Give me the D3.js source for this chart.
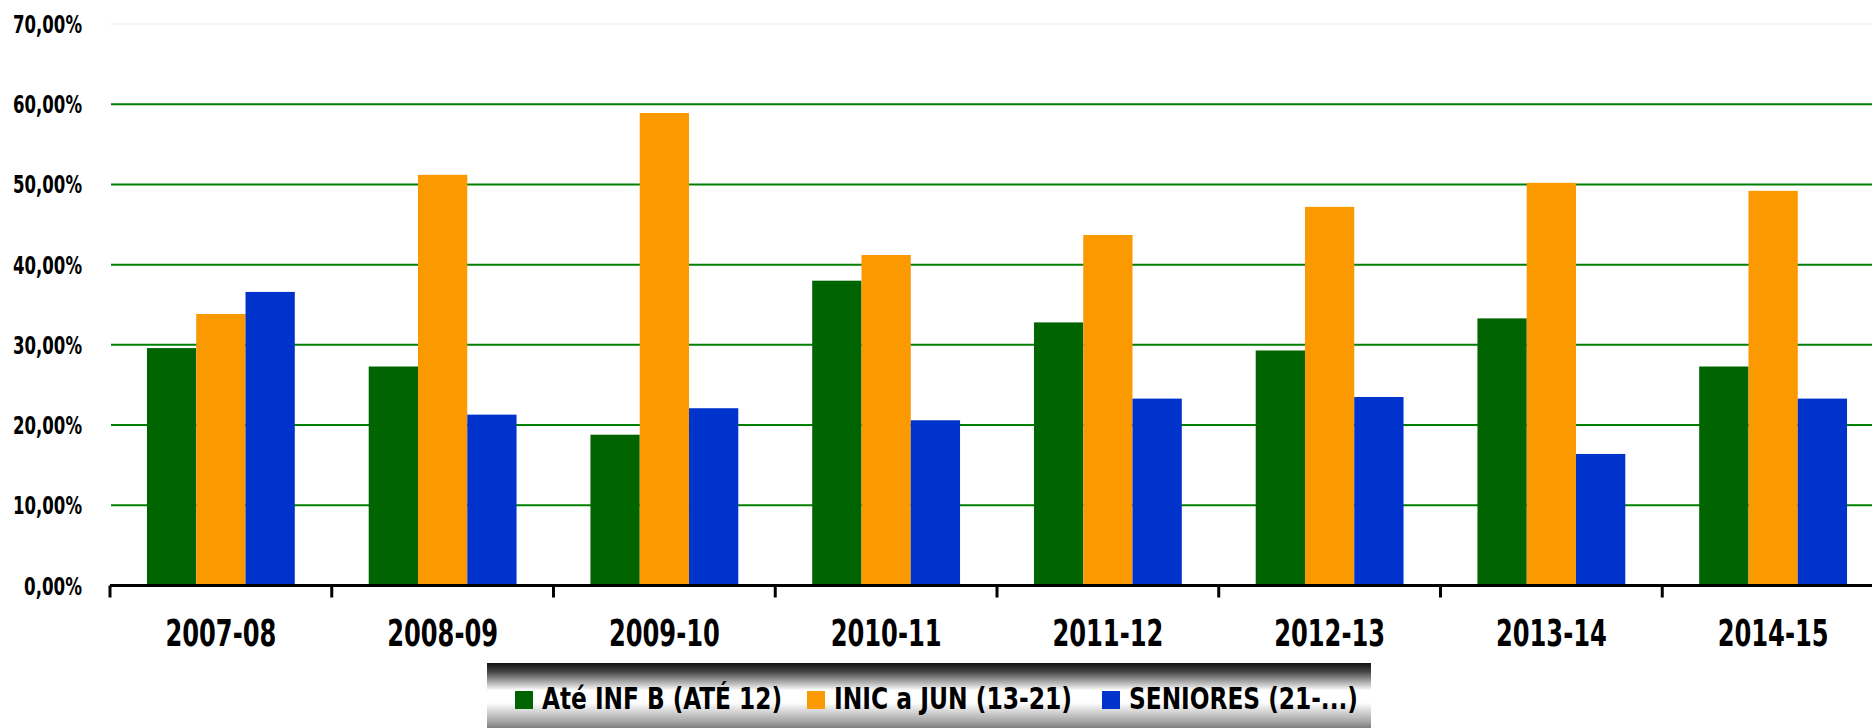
<!DOCTYPE html>
<html>
<head>
<meta charset="utf-8">
<script src="https://cdnjs.cloudflare.com/ajax/libs/d3/7.8.5/d3.min.js"></script>
<style>
  body { margin: 0; background: #fff; }
  text { font-family: "Liberation Sans Narrow", "DejaVu Sans Condensed", sans-serif; font-weight: bold; fill: #000; }
</style>
</head>
<body>
<div id="chart"></div>
<script>
// data
var seasons = ["2007-08", "2008-09", "2009-10", "2010-11", "2011-12", "2012-13", "2013-14", "2014-15"];
var seriesNames = ["Até INF B (ATÉ 12)", "INIC a JUN (13-21)", "SENIORES (21-...)"];
var ateInfB   = [29.6, 27.3, 18.8, 38.0, 32.8, 29.3, 33.3, 27.3];
var inicJun   = [33.85, 51.2, 58.9, 41.2, 43.7, 47.2, 50.2, 49.2];
var seniores  = [36.6, 21.3, 22.1, 20.6, 23.3, 23.5, 16.4, 23.3];
var yTicks = [0, 10, 20, 30, 40, 50, 60, 70];
var colors = ["#006400", "#fb9900", "#0033cc"];

var width = 1872,
    height = 728;

var svg = d3.select("#chart").append("svg")
    .attr("width", width)
    .attr("height", height);

var table = seasons.map(function(s, i) {
  return {season: s, values: [ateInfB[i], inicJun[i], seniores[i]]};
});

var x0 = d3.scaleBand().domain(seasons).range([110, 1884]);
var x1 = d3.scaleBand().domain(d3.range(3)).range([0, x0.bandwidth()]).paddingOuter(0.75);
var y = d3.scaleLinear().domain([0, 70]).range([585.5, 24]);

var fmt = function(v) { return v.toFixed(2).replace(".", ",") + "%"; };

// gridlines
svg.append("g")
  .selectAll("line")
  .data(yTicks.filter(function(d) { return d > 0; }))
  .enter().append("line")
  .attr("x1", 111)
  .attr("x2", width)
  .attr("y1", function(d) { return y(d); })
  .attr("y2", function(d) { return y(d); })
  .attr("stroke", function(d) { return d == 70 ? "#f4f4f4" : "#008000"; })
  .attr("stroke-width", 2);

// y labels (condensed to the reference width)
svg.append("g")
  .selectAll("text")
  .data(yTicks)
  .enter().append("text")
  .attr("x", 82)
  .attr("y", function(d) { return y(d); })
  .attr("dy", "0.36em")
  .style("text-anchor", "end")
  .style("font-size", "25px")
  .attr("textLength", function(d) { return d == 0 ? 58 : 69; })
  .attr("lengthAdjust", "spacingAndGlyphs")
  .text(fmt);

// bars
var groups = svg.append("g")
  .selectAll("g")
  .data(table)
  .enter().append("g")
  .attr("transform", function(d) { return "translate(" + x0(d.season) + ",0)"; });

groups.selectAll("rect")
  .data(function(d) { return d.values; })
  .enter().append("rect")
  .attr("x", function(d, i) { return x1(i); })
  .attr("width", x1.bandwidth())
  .attr("y", function(d) { return y(d); })
  .attr("height", function(d) { return y(0) - y(d); })
  .attr("fill", function(d, i) { return colors[i]; });

// x axis
var xAxis = d3.axisBottom(x0).tickSize(0).tickPadding(0);
var gx = svg.append("g")
  .attr("transform", "translate(0," + y(0) + ")")
  .call(xAxis);
gx.select(".domain").remove();
gx.selectAll("text")
  .attr("y", 60)
  .attr("dy", 0)
  .attr("fill", "#000")
  .style("font-size", "38px")
  .style("font-family", null)
  .attr("textLength", 111)
  .attr("lengthAdjust", "spacingAndGlyphs");

svg.append("line")
  .attr("x1", 110)
  .attr("x2", width)
  .attr("y1", y(0))
  .attr("y2", y(0))
  .attr("stroke", "#000")
  .attr("stroke-width", 3);

svg.append("g")
  .selectAll("line")
  .data(seasons)
  .enter().append("line")
  .attr("x1", function(d) { return x0(d); })
  .attr("x2", function(d) { return x0(d); })
  .attr("y1", y(0))
  .attr("y2", y(0) + 12)
  .attr("stroke", "#000")
  .attr("stroke-width", 3);

// legend
var grad = svg.append("defs").append("linearGradient")
  .attr("id", "metal")
  .attr("x1", 0).attr("y1", 0).attr("x2", 0).attr("y2", 1);
grad.append("stop").attr("offset", "0%").attr("stop-color", "#111");
grad.append("stop").attr("offset", "12%").attr("stop-color", "#444");
grad.append("stop").attr("offset", "38%").attr("stop-color", "#fff");
grad.append("stop").attr("offset", "55%").attr("stop-color", "#fff");
grad.append("stop").attr("offset", "80%").attr("stop-color", "#aaa");
grad.append("stop").attr("offset", "100%").attr("stop-color", "#555");

svg.append("rect")
  .attr("x", 487)
  .attr("y", 663)
  .attr("width", 884)
  .attr("height", 72)
  .attr("fill", "url(#metal)");

var legendX = [515, 807, 1102];
var legendW = [240, 238, 229];

var items = svg.append("g")
  .selectAll("g")
  .data(seriesNames)
  .enter().append("g")
  .attr("transform", function(d, i) { return "translate(" + legendX[i] + ",0)"; });

items.append("rect")
  .attr("y", 691)
  .attr("width", 18)
  .attr("height", 18)
  .attr("fill", function(d, i) { return colors[i]; });

items.append("text")
  .attr("x", 27)
  .attr("y", 709)
  .style("font-size", "31px")
  .attr("textLength", function(d, i) { return legendW[i]; })
  .attr("lengthAdjust", "spacingAndGlyphs")
  .text(function(d) { return d; });
</script>
</body>
</html>
